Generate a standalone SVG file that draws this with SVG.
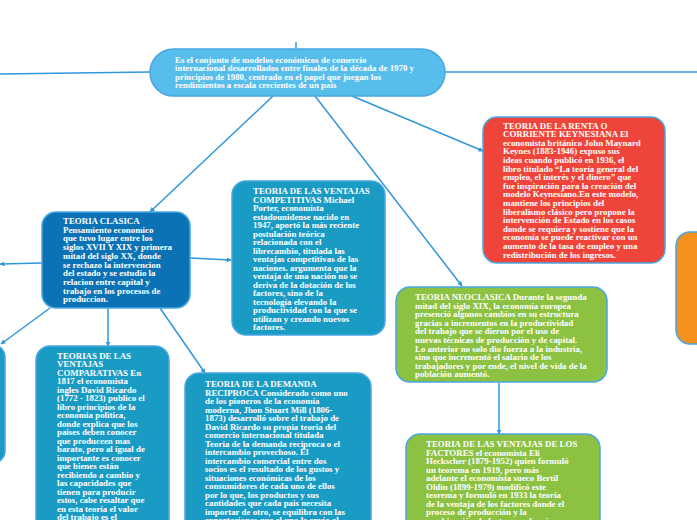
<svg xmlns="http://www.w3.org/2000/svg" width="697" height="520" viewBox="0 0 697 520">
<defs>
<marker id="arr" viewBox="0 0 10 10" refX="9" refY="5" markerWidth="5" markerHeight="5" orient="auto" markerUnits="userSpaceOnUse">
<path d="M0,0 L10,5 L0,10 z" fill="#2f97dc"/>
</marker>
</defs>
<style>
.n{stroke:#4aa7e2;stroke-width:1.5}
.t{font-family:"Liberation Serif","Times New Roman",serif;font-weight:bold;font-size:8.9px;fill:#ffffff}
.c{stroke:#2f97dc;stroke-width:1.5;fill:none}
.a{marker-end:url(#arr)}
</style>
<rect width="697" height="520" fill="#ffffff"/>
<g id="connectors">
<line class="c" x1="0" y1="74" x2="150" y2="72"/>
<line class="c" x1="445" y1="72" x2="697" y2="72"/>
<line class="c" x1="296" y1="42" x2="296" y2="49"/>
<line class="c a" x1="273" y1="96" x2="150" y2="212"/>
<line class="c a" x1="315" y1="96" x2="462" y2="286"/>
<line class="c a" x1="352" y1="96" x2="483" y2="151"/>
<line class="c a" x1="42" y1="263" x2="0" y2="264"/>
<line class="c a" x1="190" y1="258" x2="231" y2="260"/>
<line class="c a" x1="50" y1="308" x2="1" y2="344"/>
<line class="c a" x1="108" y1="308" x2="108" y2="346"/>
<line class="c a" x1="160" y1="308" x2="205" y2="373"/>
<line class="c a" x1="499" y1="383" x2="499" y2="434"/>
</g>
<g id="root">
<rect class="n" x="150" y="49" width="295" height="47" rx="23.5" fill="#57bdeb"/>
<text class="t"><tspan x="175" y="62.5">Es el conjunto de modelos económicos de comercio</tspan><tspan x="175" y="71">internacional desarrollados entre finales de la década de 1970 y</tspan><tspan x="175" y="79.5">principios de 1980, centrado en el papel que juegan los</tspan><tspan x="175" y="88">rendimientos a escala crecientes de un pais</tspan></text>
</g>
<g id="clasica">
<rect class="n" x="42" y="212" width="148" height="96" rx="14" fill="#0b73b5"/>
<text class="t"><tspan x="63" y="224">TEORIA CLASICA</tspan><tspan x="63" y="232.7">Pensamiento economico</tspan><tspan x="63" y="241.4">que tuvo lugar entre los</tspan><tspan x="63" y="250.1">siglos XVII Y XIX y primera</tspan><tspan x="63" y="258.8">mitad del siglo XX, donde</tspan><tspan x="63" y="267.5">se rechazo la intervencion</tspan><tspan x="63" y="276.2">del estado y se estudio la</tspan><tspan x="63" y="284.9">relacion entre capital y</tspan><tspan x="63" y="293.6">trabajo en los procesos de</tspan><tspan x="63" y="302.3">produccion.</tspan></text>
</g>
<g id="competitivas">
<rect class="n" x="232" y="181" width="153" height="154" rx="14" fill="#1a9bc4"/>
<text class="t"><tspan x="253" y="194">TEORIA DE LAS VENTAJAS</tspan><tspan x="253" y="202.5">COMPETITIVAS Michael</tspan><tspan x="253" y="211">Porter, economista</tspan><tspan x="253" y="219.5">estadounidense nacido en</tspan><tspan x="253" y="228">1947, aportó la más reciente</tspan><tspan x="253" y="236.5">postulación teórica</tspan><tspan x="253" y="245">relacionada con el</tspan><tspan x="253" y="253.5">librecambio, titulada las</tspan><tspan x="253" y="262">ventajas competitivas de las</tspan><tspan x="253" y="270.5">naciones. argumenta que la</tspan><tspan x="253" y="279">ventaja de una nación no se</tspan><tspan x="253" y="287.5">deriva de la dotación de los</tspan><tspan x="253" y="296">factores, sino de la</tspan><tspan x="253" y="304.5">tecnología elevando la</tspan><tspan x="253" y="313">productividad con la que se</tspan><tspan x="253" y="321.5">utilizan y creando nuevos</tspan><tspan x="253" y="330">factores.</tspan></text>
</g>
<g id="keynesiana">
<rect class="n" x="483" y="117" width="182" height="146" rx="14" fill="#ee4439"/>
<text class="t"><tspan x="503" y="128.5">TEORIA DE LA RENTA O</tspan><tspan x="503" y="137.1">CORRIENTE KEYNESIANA El</tspan><tspan x="503" y="145.7">economista británico John Maynard</tspan><tspan x="503" y="154.3">Keynes (1883-1946) expuso sus</tspan><tspan x="503" y="162.9">ideas cuando publicó en 1936, el</tspan><tspan x="503" y="171.5">libro titulado “La teoría general del</tspan><tspan x="503" y="180.1">empleo, el interés y el dinero” que</tspan><tspan x="503" y="188.7">fue inspiración para la creación del</tspan><tspan x="503" y="197.3">modelo Keynesiano.En este modelo,</tspan><tspan x="503" y="205.9">mantiene los principios del</tspan><tspan x="503" y="214.5">liberalismo clásico pero propone la</tspan><tspan x="503" y="223.1">intervención de Estado en los casos</tspan><tspan x="503" y="231.7">donde se requiera y sostiene que la</tspan><tspan x="503" y="240.3">economía se puede reactivar con un</tspan><tspan x="503" y="248.9">aumento de la tasa de empleo y una</tspan><tspan x="503" y="257.5">redistribución de los ingresos.</tspan></text>
</g>
<g id="orange-node">
<rect class="n" x="676" y="232" width="60" height="112" rx="14" fill="#f5921e"/>
</g>
<g id="left-node">
<rect class="n" x="-40" y="345" width="45" height="118" rx="12" fill="#1a9bc4"/>
</g>
<g id="neoclasica">
<rect class="n" x="396" y="287" width="211" height="95" rx="14" fill="#8cc142"/>
<text class="t"><tspan x="415" y="300">TEORIA NEOCLASICA Durante la segunda</tspan><tspan x="415" y="308.6">mitad del siglo XIX, la economía europea</tspan><tspan x="415" y="317.2">presenció algunos cambios en su estructura</tspan><tspan x="415" y="325.8">gracias a incrementos en la productividad</tspan><tspan x="415" y="334.4">del trabajo que se dieron por el uso de</tspan><tspan x="415" y="343">nuevas técnicas de producción y de capital.</tspan><tspan x="415" y="351.6">Lo anterior no solo dio fuerza a la industria,</tspan><tspan x="415" y="360.2">sino que incrementó el salario de los</tspan><tspan x="415" y="368.8">trabajadores y por ende, el nivel de vida de la</tspan><tspan x="415" y="377.4">población aumentó.</tspan></text>
</g>
<g id="comparativas">
<rect class="n" x="36" y="346" width="133" height="200" rx="14" fill="#1a9bc4"/>
<text class="t"><tspan x="57" y="358.5">TEORIAS DE LAS</tspan><tspan x="57" y="367">VENTAJAS</tspan><tspan x="57" y="375.5">COMPARATIVAS  En</tspan><tspan x="57" y="384">1817 el economista</tspan><tspan x="57" y="392.5">ingles David Ricardo</tspan><tspan x="57" y="401">(1772 - 1823) publico el</tspan><tspan x="57" y="409.5">libro principios de la</tspan><tspan x="57" y="418">economia politica,</tspan><tspan x="57" y="426.5">donde explica que los</tspan><tspan x="57" y="435">paises deben conocer</tspan><tspan x="57" y="443.5">que produceen mas</tspan><tspan x="57" y="452">barato, pero al igual de</tspan><tspan x="57" y="460.5">importante es conocer</tspan><tspan x="57" y="469">que bienes están</tspan><tspan x="57" y="477.5">recibiendo a cambio y</tspan><tspan x="57" y="486">las capacidades que</tspan><tspan x="57" y="494.5">tienen para producir</tspan><tspan x="57" y="503">estos, cabe resaltar que</tspan><tspan x="57" y="511.5">en esta teoría el valor</tspan><tspan x="57" y="520">del trabajo es el</tspan></text>
</g>
<g id="demanda">
<rect class="n" x="185" y="373" width="186" height="180" rx="14" fill="#1a9bc4"/>
<text class="t"><tspan x="205" y="387">TEORIA DE LA DEMANDA</tspan><tspan x="205" y="395.5">RECIPROCA Considerado como uno</tspan><tspan x="205" y="404">de los pioneros de la economía</tspan><tspan x="205" y="412.5">moderna, Jhon Stuart Mill (1806-</tspan><tspan x="205" y="421">1873) desarrolló sobre el trabajo de</tspan><tspan x="205" y="429.5">David Ricardo su propia teoria del</tspan><tspan x="205" y="438">comercio internacional titulada</tspan><tspan x="205" y="446.5">Teoria de la demanda reciproca o el</tspan><tspan x="205" y="455">intercambio provechoso. Él</tspan><tspan x="205" y="463.5">intercambio comercial entre dos</tspan><tspan x="205" y="472">socios es el resultado de los gustos y</tspan><tspan x="205" y="480.5">situaciones económicas de los</tspan><tspan x="205" y="489">consumidores de cada uno de ellos</tspan><tspan x="205" y="497.5">por lo que, los productos y sus</tspan><tspan x="205" y="506">cantidades que cada pais necesita</tspan><tspan x="205" y="514.5">importar de otro, se equilibra con las</tspan><tspan x="205" y="523">exportaciones que el uno le envía al</tspan></text>
</g>
<g id="factores">
<rect class="n" x="406" y="434" width="194" height="120" rx="14" fill="#8cc142"/>
<text class="t"><tspan x="426" y="447">TEORIA DE LAS VENTAJAS DE LOS</tspan><tspan x="426" y="455.5">FACTORES el economista Eli</tspan><tspan x="426" y="464">Heckscher (1879-1952) quien formuló</tspan><tspan x="426" y="472.5">un teorema en 1919, pero más</tspan><tspan x="426" y="481">adelante el economista sueco Bertil</tspan><tspan x="426" y="489.5">Ohlin (1899-1979) modificó este</tspan><tspan x="426" y="498">teorema y formuló en 1933 la teoría</tspan><tspan x="426" y="506.5">de la ventaja de los factores donde el</tspan><tspan x="426" y="515">proceso de producción y la</tspan><tspan x="426" y="523.5">combinación de factores es la misma</tspan></text>
</g>
</svg>
